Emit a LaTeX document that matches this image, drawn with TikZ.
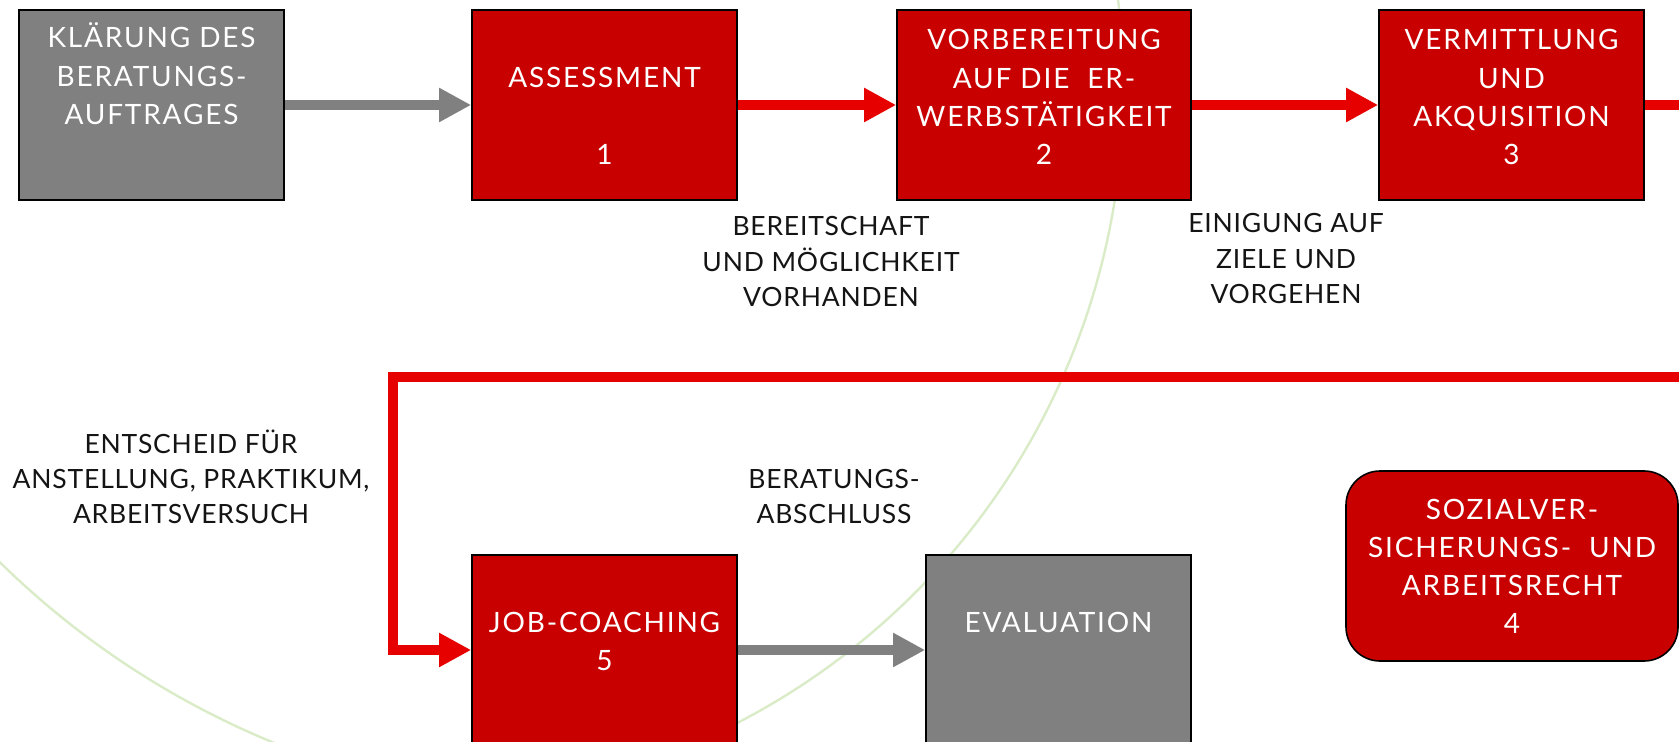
\documentclass[tikz,border=0pt]{standalone}
\usepackage{fontspec}
\setmainfont{Lato}
\newfontfamily\boxfont{Lato}[LetterSpace=6.5]
\newfontfamily\labfont{Lato}[LetterSpace=3]
\usetikzlibrary{arrows.meta}
\definecolor{boxred}{RGB}{200,0,0}
\definecolor{arrred}{RGB}{230,0,0}
\definecolor{boxgray}{RGB}{128,128,128}
\definecolor{arcgreen}{RGB}{218,235,200}
\definecolor{labblack}{RGB}{20,20,20}
\newcommand{\stacklines}[1]{\begin{tabular}[t]{@{}c@{}}#1\end{tabular}}
\begin{document}
\begin{tikzpicture}[x=0.5pt,y=-0.5pt,
  box/.style={draw=black, line width=0.8pt, minimum width=132.5pt, minimum height=95pt, inner sep=0pt},
  redbox/.style={box, fill=boxred},
  graybox/.style={box, fill=boxgray},
  boxtxt/.style={text=white, font=\boxfont\fontsize{14}{19.15}\selectfont, anchor=base, inner sep=0pt},
  labtxt/.style={text=labblack, font=\labfont\fontsize{13.25}{17.75}\selectfont, anchor=base, inner sep=0pt},
  conn/.style={line width=5.4pt, -{Triangle[length=16pt,width=16pt]}},
  redconn/.style={conn, draw=arrred},
  grayconn/.style={conn, draw=boxgray},
  redline/.style={line width=5.4pt, draw=arrred},
  arcline/.style={draw=arcgreen, line width=1.2pt},
]
\useasboundingbox (0,0) rectangle (1679,742);
\begin{scope}
  \clip (0,0) rectangle (1679,742);
  \draw[arcline] plot[domain=-12:68, samples=80] ({409.6+714*cos(\x)},{88.6+714*sin(\x)});
  \draw[arcline] plot[domain=110:138, samples=40] ({597.3+853*cos(\x)},{-46.5+853*sin(\x)});
\end{scope}

% connector end points
\coordinate (out) at (1679,105);
\coordinate (in) at (1679,377);
\coordinate (bend) at (393,377);

% boxes
\node[graybox] (K) at (151.5,105) {};
\node[redbox] (A) at (604.5,105) {};
\node[redbox, minimum width=147pt] (V) at (1044,105) {};
\node[redbox] (M) at (1511.5,105) {};
\node[redbox] (J) at (604.5,650) {};
\node[graybox] (E) at (1058.5,650) {};
\node[redbox, rounded corners=17pt, minimum width=166pt] (S) at (1512,566) {};

% connectors
\draw[grayconn] (K) -- (A);
\draw[redconn] (A) -- (V);
\draw[redconn] (V) -- (M);
\draw[redline] (M.east) -- (out);
\draw[redconn] (in) -- (bend) |- (J.west);
\draw[grayconn] (J) -- (E);

% box texts
\node[boxtxt] (tK) at (151.5,48) {\stacklines{KLÄRUNG DES\\BERATUNGS-\\AUFTRAGES}};
\node[boxtxt] (tA) at (604.5,88) {\stacklines{ASSESSMENT\\ \\1}};
\node[boxtxt] (tV) at (1044,50) {\stacklines{VORBEREITUNG\\AUF DIE\ \ ER-\\WERBSTÄTIGKEIT\\2}};
\node[boxtxt] (tM) at (1511.5,50) {\stacklines{VERMITTLUNG\\UND\\AKQUISITION\\3}};
\node[boxtxt] (tJ) at (604.5,632) {\stacklines{JOB-COACHING\\5}};
\node[boxtxt] (tE) at (1058.5,632) {\stacklines{EVALUATION}};
\node[boxtxt] (tS) at (1512,519) {\stacklines{SOZIALVER-\\SICHERUNGS-\ \ UND\\ARBEITSRECHT\\4}};

% labels
\node[labtxt] (lB) at (831,236) {\stacklines{BEREITSCHAFT\\UND MÖGLICHKEIT\\VORHANDEN}};
\node[labtxt] (lE) at (1286,233) {\stacklines{EINIGUNG AUF\\ZIELE UND\\VORGEHEN}};
\node[labtxt] (lN) at (191,453) {\stacklines{ENTSCHEID FÜR\\ANSTELLUNG, PRAKTIKUM,\\ARBEITSVERSUCH}};
\node[labtxt] (lR) at (834,488) {\stacklines{BERATUNGS-\\ABSCHLUSS}};
\end{tikzpicture}
\end{document}
